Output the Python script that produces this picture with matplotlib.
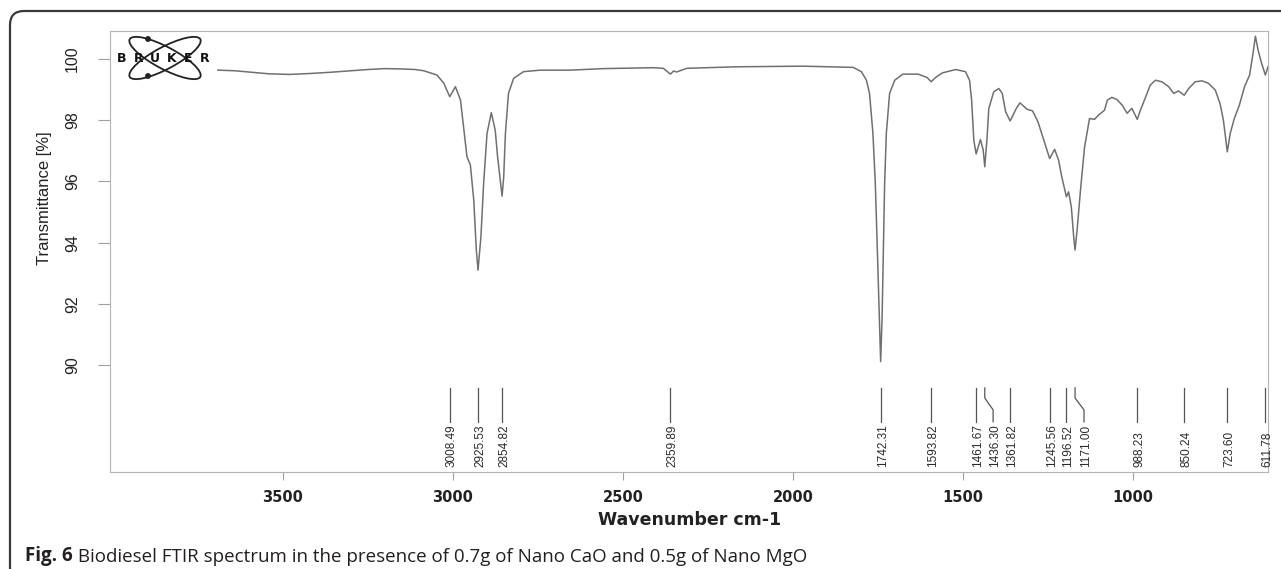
import matplotlib.pyplot as plt
from matplotlib.patches import Ellipse, FancyBboxPatch, Circle

# spectrum (wavenumber cm-1, transmittance %)
wn = [3690, 3640, 3600, 3540, 3480, 3420, 3360, 3300, 3250, 3200, 3150, 3110,
      3085, 3046, 3026, 3008.5, 2992, 2977, 2968, 2958, 2948, 2938, 2930.5,
      2925.5, 2917, 2909, 2899, 2886.5, 2875, 2868, 2854.8, 2850, 2845, 2836,
      2821, 2792, 2743, 2655, 2557, 2410, 2381, 2360, 2351, 2342, 2312, 2165,
      1970, 1823, 1799, 1784, 1775, 1765, 1758, 1752, 1745, 1742.3, 1738,
      1734.4, 1730.6, 1725.6, 1716, 1701, 1677, 1632, 1606, 1593.8, 1581, 1561,
      1522, 1493, 1481, 1475, 1468.5, 1461.7, 1449, 1441, 1436.3, 1429.4,
      1424.5, 1410, 1395, 1385, 1375, 1361.8, 1343.5, 1333, 1312, 1296, 1280,
      1266, 1245.6, 1231, 1219.5, 1210, 1196.5, 1190, 1182, 1175, 1171, 1165,
      1155, 1143, 1128.5, 1114, 1102, 1084.5, 1076, 1063, 1048, 1033, 1018,
      1004, 988.2, 979, 965, 950, 935, 916, 896, 881, 867, 850.2, 837, 818,
      798, 779, 759, 745, 735, 729, 723.6, 715, 703, 688, 673, 658, 648, 641,
      633, 624, 611.8, 604]
trans = [99.64, 99.62, 99.58, 99.52, 99.50, 99.53, 99.57, 99.62, 99.66, 99.69,
         99.68, 99.66, 99.62, 99.48, 99.21, 98.77, 99.10, 98.66, 97.79, 96.81,
         96.54, 95.39, 93.76, 93.10, 94.19, 95.94, 97.57, 98.25, 97.68, 96.81,
         95.52, 96.15, 97.57, 98.88, 99.37, 99.59, 99.64, 99.64, 99.69, 99.72,
         99.70, 99.51, 99.61, 99.58, 99.70, 99.75, 99.77, 99.73, 99.59, 99.31,
         98.88, 97.57, 95.94, 93.76, 91.04, 90.11, 91.58, 93.76, 95.94, 97.57,
         98.88, 99.31, 99.51, 99.51, 99.40, 99.26, 99.40, 99.55, 99.66, 99.59,
         99.31, 98.66, 97.35, 96.90, 97.37, 97.03, 96.48, 97.46, 98.39, 98.93,
         99.04, 98.88, 98.28, 97.98, 98.39, 98.57, 98.36, 98.31, 97.95, 97.46,
         96.75, 97.05, 96.70, 96.15, 95.50, 95.66, 95.17, 94.19, 93.76, 94.41,
         95.72, 97.13, 98.06, 98.03, 98.17, 98.33, 98.66, 98.75, 98.68, 98.50,
         98.23, 98.39, 98.03, 98.33, 98.72, 99.15, 99.31, 99.26, 99.10, 98.88,
         98.96, 98.82, 99.04, 99.26, 99.29, 99.21, 98.99, 98.55, 98.00, 97.46,
         96.97, 97.57, 98.06, 98.50, 99.10, 99.48, 100.19, 100.75, 100.29,
         99.91, 99.48, 99.75]

peaks = [3008.49, 2925.53, 2854.82, 2359.89, 1742.31, 1593.82, 1461.67, 1436.30,
         1361.82, 1245.56, 1196.52, 1171.00, 988.23, 850.24, 723.60, 611.78]
peak_labels = ['3008.49', '2925.53', '2854.82', '2359.89', '1742.31', '1593.82',
               '1461.67', '1436.30', '1361.82', '1245.56', '1196.52', '1171.00',
               '988.23', '850.24', '723.60', '611.78']

yticks = [90, 92, 94, 96, 98, 100]
xticks = [3500, 3000, 2500, 2000, 1500, 1000]

plt.rcParams['font.family'] = ['Liberation Sans Narrow', 'Liberation Sans', 'DejaVu Sans']

W, H = 1281, 569
fig = plt.figure(figsize=(W / 100, H / 100), dpi=100)
ax = fig.add_axes([110 / W, 1 - 472 / H, (1268 - 110) / W, (472 - 31) / H])

ax.plot(wn, trans, color='#707070', lw=1.1)
ax.set_xlim(4007, 604)
ax.set_ylim(86.5, 100.92)

# peak pick marks, two of them bent to make room for the labels
bent = {1436.30: 1411.8, 1171.00: 1144.7}
for p, lab in zip(peaks, peak_labels):
    end = bent.get(p, p)
    ax.plot([p, p, end, end], [89.25, 88.92, 88.53, 88.14], color='#555555', lw=0.9)
    ax.text(end - 6, 86.67, lab, rotation=90, ha='center', va='bottom',
            fontsize=8.5, color='#2a2a2a')

ax.set_yticks(yticks)
ax.set_xticks(xticks)
ax.tick_params(axis='y', direction='out', length=8.5, width=0.8, color='#a0a0a0',
               pad=13, labelsize=11.5, labelcolor='#222222')
ax.tick_params(axis='x', direction='out', length=6, width=0.8, color='#a0a0a0',
               pad=7)
for t in ax.get_yticklabels():
    t.set_rotation(90)
    t.set_va('center')
for t in ax.get_xticklabels():
    t.set_family('DejaVu Sans')
    t.set_fontweight('bold')
    t.set_fontsize(10.5)
    t.set_color('#222222')

ax.set_ylabel('Transmittance [%]', fontsize=12, color='#222222')
ax.yaxis.set_label_coords(-0.050, 0.621)
ax.set_xlabel('Wavenumber cm-1', family='DejaVu Sans', fontweight='bold',
              fontsize=12.5, color='#222222')
ax.xaxis.set_label_coords(0.5009, -0.088)

for s in ax.spines.values():
    s.set_color('#b4b4b4')
    s.set_linewidth(0.8)
    s.set_linestyle((0, (2, 1)))

# overlay in pixel units for the frame, logo and caption
ov = fig.add_axes([0, 0, 1, 1])
ov.set_xlim(0, W)
ov.set_ylim(H, 0)
ov.axis('off')

ov.add_patch(FancyBboxPatch((10, 11), 1320, 620, boxstyle='round,pad=0,rounding_size=14',
                            fc='none', ec='#3a3a3a', lw=1.6))

for ang in (28, -28):
    ov.add_patch(Ellipse((165, 58), 80, 22, angle=ang, fc='none', ec='#222222', lw=1.3))
for cx, cy in [(148, 39), (148, 76)]:
    ov.add_patch(Circle((cx, cy), 2.2, color='#222222'))
for i, ch in enumerate('BRUKER'):
    ov.text(121.5 + i * 16.7, 58, ch, ha='center', va='center', fontsize=9,
            family='DejaVu Sans', fontweight='bold', color='#111111')

cap = ov.text(25, 561, 'Fig. 6', family='Open Sans', fontweight='bold', fontsize=13.5,
              color='#231f20', va='baseline', ha='left')
ov.annotate(' Biodiesel FTIR spectrum in the presence of 0.7g of Nano CaO and 0.5g of Nano MgO',
            xy=(1, 0), xycoords=cap, va='bottom', ha='left', family='Open Sans',
            fontsize=13.5, color='#231f20')

fig.savefig('out.png', dpi=100)
